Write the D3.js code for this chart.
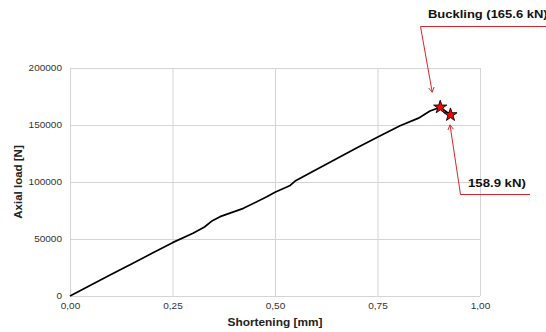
<!DOCTYPE html>
<html>
<head>
<meta charset="utf-8">
<script src="https://cdn.jsdelivr.net/npm/d3@7"></script>
<style>
  body { margin: 0; background: #fff; }
  svg { display: block; }
</style>
</head>
<body>
<svg id="chart" width="546" height="332"></svg>
<script>
// load-shortening curve
const shortening = [0, 0.05, 0.10, 0.15, 0.20, 0.25, 0.30, 0.328, 0.345, 0.366, 0.423, 0.48, 0.50, 0.537, 0.549, 0.60, 0.65, 0.70, 0.752, 0.805, 0.85, 0.878, 0.903, 0.928];
const axialLoad = [0, 9400, 18800, 28100, 37400, 46800, 55000, 60500, 65500, 69600, 76900, 87000, 91000, 97000, 100800, 110800, 120500, 130000, 139700, 149400, 156000, 162300, 165600, 158900];

const xTicks = [0, 0.25, 0.5, 0.75, 1];
const yTicks = [0, 50000, 100000, 150000, 200000];

const peaks = [
  { x: 0.903, y: 165600 },
  { x: 0.928, y: 158900 }
];

const svg = d3.select('#chart');
const font = 'Liberation Sans, Arial, sans-serif';
const red = '#d9262b';
const grid = '#d4d4d4';

const x = d3.scaleLinear().domain([0, 1]).range([70, 480]);
const y = d3.scaleLinear().domain([0, 200000]).range([296, 68]);

// grid lines
svg.append('g')
    .selectAll('line.v')
    .data(xTicks)
    .enter()
    .append('line')
      .attr('x1', (d) => x(d) + 0.5).attr('x2', (d) => x(d) + 0.5)
      .attr('y1', y(0)).attr('y2', y(200000))
      .attr('stroke', grid);

svg.append('g')
    .selectAll('line.h')
    .data(yTicks)
    .enter()
    .append('line')
      .attr('x1', x(0)).attr('x2', x(1))
      .attr('y1', (d) => y(d) + 0.5).attr('y2', (d) => y(d) + 0.5)
      .attr('stroke', grid);

// axes (labels only, the picture is slightly stretched sideways)
const xAxis = svg.append('g')
    .attr('transform', `translate(0,${y(0)})`)
    .call(d3.axisBottom(x).tickValues(xTicks).tickSize(0).tickPadding(7)
      .tickFormat((d) => d.toFixed(2).replace('.', ',')));

const yAxis = svg.append('g')
    .attr('transform', `translate(${x(0) - 8},0)`)
    .call(d3.axisLeft(y).tickValues(yTicks).tickSize(0).tickPadding(0)
      .tickFormat(d3.format('d')));

[xAxis, yAxis].forEach((a) => {
  a.select('.domain').remove();
  a.selectAll('text')
    .style('font-family', font)
    .style('font-size', '8.5px')
    .attr('fill', '#333')
    .attr('transform', 'scale(1.18,1)');
});

svg.append('text')
    .text('Shortening [mm]')
    .attr('transform', 'translate(275,326) scale(1.08,1)')
    .attr('text-anchor', 'middle')
    .style('font-family', font)
    .style('font-size', '11px')
    .style('font-weight', '700')
    .attr('fill', '#222');

svg.append('text')
    .text('Axial load [N]')
    .attr('transform', 'translate(22,182) rotate(-90)')
    .attr('text-anchor', 'middle')
    .style('font-family', font)
    .style('font-size', '11.5px')
    .style('font-weight', '700')
    .attr('fill', '#222');

// curve
const points = shortening.map((s, i) => [s, axialLoad[i]]);
svg.append('path')
    .datum(points)
    .attr('d', d3.line().x((d) => x(d[0])).y((d) => y(d[1])))
    .attr('fill', 'none')
    .attr('stroke', '#000')
    .attr('stroke-width', 1.7)
    .attr('stroke-linejoin', 'round');

// annotations
const arrowHead = (tip, from) => {
  const ang = Math.atan2(from[1] - tip[1], from[0] - tip[0]);
  const len = 5.5;
  const a1 = ang + Math.PI / 6, a2 = ang - Math.PI / 6;
  return `M${tip[0] + len * Math.cos(a1)},${tip[1] + len * Math.sin(a1)}L${tip[0]},${tip[1]}L${tip[0] + len * Math.cos(a2)},${tip[1] + len * Math.sin(a2)}`;
};

const tip1 = [x(peaks[0].x) - 8, y(peaks[0].y) - 15];
const corner1 = [420.5, 26.5];
svg.append('path')
    .attr('d', `M546,${corner1[1]}L${corner1[0]},${corner1[1]}L${tip1[0]},${tip1[1]}` + arrowHead(tip1, corner1))
    .attr('fill', 'none')
    .attr('stroke', red)
    .attr('stroke-width', 1);

const tip2 = [x(peaks[1].x) - 0.5, y(peaks[1].y) + 10];
const corner2 = [460.5, 194.5];
svg.append('path')
    .attr('d', `M530,${corner2[1]}L${corner2[0]},${corner2[1]}L${tip2[0]},${tip2[1]}` + arrowHead(tip2, corner2))
    .attr('fill', 'none')
    .attr('stroke', red)
    .attr('stroke-width', 1);

svg.append('text')
    .text('Buckling (165.6 kN)')
    .attr('transform', 'translate(428,18) scale(1.18,1)')
    .style('font-family', font)
    .style('font-size', '11px')
    .style('font-weight', '700')
    .attr('fill', '#111');

svg.append('text')
    .text('158.9 kN)')
    .attr('transform', 'translate(468,187) scale(1.2,1)')
    .style('font-family', font)
    .style('font-size', '11px')
    .style('font-weight', '700')
    .attr('fill', '#111');

// star markers
svg.append('g')
    .selectAll('path.star')
    .data(peaks)
    .enter()
    .append('path')
      .attr('class', 'star')
      .attr('d', d3.symbol(d3.symbolStar).size(54))
      .attr('transform', (d) => `translate(${x(d.x)},${y(d.y)})`)
      .attr('fill', '#ff0000')
      .attr('stroke', '#000')
      .attr('stroke-width', 0.9);
</script>
</body>
</html>
